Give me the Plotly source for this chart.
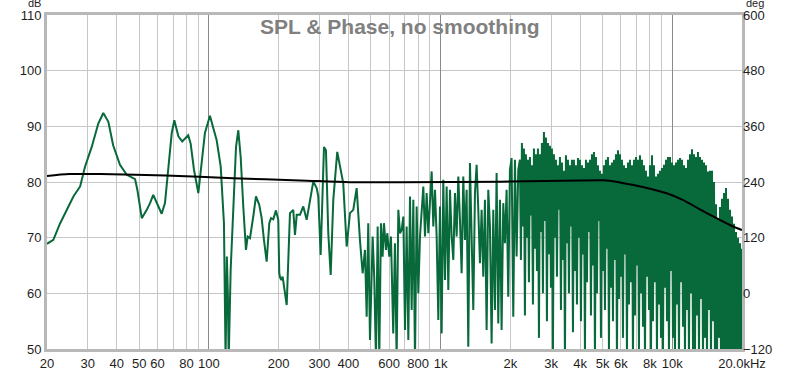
import numpy as np
import plotly.graph_objects as go

# ---------------- data ----------------
# SPL, low/mid frequencies: hand-read points
LOW_FREQ_HZ = [20, 21.3, 22.8, 24.3, 26.0, 27.8, 29.2, 31.2, 33.3, 35.0,
               36.8, 38.6, 41.3, 44.2, 48.0, 49.1, 51.3, 53.9, 55.7, 57.5,
               59.5, 62.5, 64.6, 66.8, 69.1, 70.9, 73.8, 76.7, 81.4, 83.4,
               86.2, 90.0, 93.1, 96.1, 101, 105.1, 108, 112.4, 116.1, 118.0,
               119.5, 120.7, 121.7, 124.1, 127.4, 130.9, 133.9, 137.1, 140.7, 144.5,
               147, 150.4, 155.4, 159.6, 164.9, 168.9, 172.8, 177.5, 182.2, 185.3,
               189.6, 194.7, 199.2, 201.2, 203, 205.4, 208, 216.6, 223.8, 231.2,
               235.2, 239.3, 247.2, 255.4, 264.2, 273, 282.2, 291.8, 296.5, 303.6,
               313.8, 320, 327.5, 335.4, 344.2, 358, 370.4, 380, 393.2, 406.2,
               419.8, 434.2, 448.6, 460.8, 471.6, 479.6, 487.2, 495.6, 509, 517,
               526, 535, 543.6, 552.8, 562, 569.6, 581, 588.6, 600.4, 610.6,
               624.6, 635.2, 646, 657]
LOW_SPL_DB = [68.9, 69.6, 72.6, 75.0, 77.4, 79.2, 82.8, 86.3, 90.5, 92.4,
              90.8, 86.6, 83.1, 81.3, 80.5, 78.6, 73.5, 75.0, 76.2, 77.7,
              76.2, 74.3, 76.2, 82.2, 88.8, 91.1, 88.2, 87.3, 88.4, 86.9,
              82.2, 78.0, 83.4, 88.8, 91.9, 89.1, 87.5, 82.8, 72.6, 48,
              66.6, 60, 48, 64.2, 76.8, 86.3, 89.3, 84.5, 75.6, 67.8,
              70.2, 69.9, 73.8, 77.4, 75.9, 73.5, 69.6, 65.7, 72.6, 73.5,
              73.3, 74.9, 73.2, 63.6, 62.8, 62.4, 63.0, 57.9, 74.4, 75.0,
              70.5, 74.1, 74.1, 75.6, 73.2, 76.8, 80.1, 78.9, 77.4, 66.9,
              86.3, 85.7, 70.8, 63.3, 76.8, 85.4, 82.2, 79.8, 68.4, 74.4,
              75.0, 78.9, 69.6, 63.6, 67.8, 55.8, 72.6, 51.6, 70.2, 63.0,
              48, 72.0, 48, 72.6, 66.6, 72.6, 67.8, 70.8, 66.6, 70.2,
              52.8, 69.0, 48, 75.0]

# SPL, 668 Hz .. 2.16 kHz: values read on an even log-frequency sampling grid
MID_START_HZ = 668
MID_STOP_HZ = 2164
MID_SPL_DB = [70.8, 71.4, 73.8, 53.4, 72.0, 51.6, 77.4, 57.0, 76.8, 48,
              75.6, 60.0, 70.2, 75.0, 79.2, 70.2, 78.0, 70.8, 76.2, 81.9,
              72.0, 78.6, 70.2, 55.2, 75.6, 52.8, 80.4, 62.4, 79.2, 60.6,
              78.6, 70.2, 66.0, 78.0, 70.2, 81.0, 73.2, 63.6, 81.0, 69.6,
              78.6, 50.4, 83.4, 69.6, 57.0, 78.0, 83.1, 75.0, 65.4, 75.0,
              63.0, 76.8, 53.4, 78.6, 72.0, 51.0, 75.0, 57.0, 81.6, 54.6,
              76.8, 53.4, 76.2, 69.0, 78.6, 59.4, 82.2, 84.3, 55.8, 84.0,
              66.6, 82.2]

# SPL, 2.2 kHz .. 20 kHz: dense trace read on an even log-frequency grid
HF_START_HZ = 2200
HF_STOP_HZ = 20000
HF_SPL_DB = [84, 66, 87, 72, 86, 56, 85, 70, 84, 62, 84.5, 74, 83, 58, 86, 68, 85, 64, 86, 52,
             85, 71, 87, 60, 89, 73, 88, 55, 87, 67, 86.5, 61, 86, 49, 85, 70, 84, 63, 83, 75,
             84.5, 57, 83.5, 66, 82, 48, 84.8, 69, 84, 60, 83, 72, 84, 53, 84, 64, 83, 58, 84.3, 70,
             84, 55, 83, 67, 82.5, 49, 84, 62, 83.5, 71, 84, 56, 85, 65, 85.4, 48, 84.5, 60, 83, 73,
             82, 52, 81.5, 64, 83, 57, 84, 68, 84.5, 50, 83, 61, 83.5, 55, 84, 66, 85, 48, 85.7, 59,
             85, 63, 84, 52, 83, 67, 82.5, 49, 83.5, 58, 84, 62, 83, 48, 84, 56, 84.5, 65, 84, 50,
             84.8, 60, 84, 54, 83, 48, 82, 63, 81, 57, 83, 48, 84.8, 55, 83, 62, 81, 49, 81.5, 58,
             82, 52, 82.5, 48, 83.1, 61, 84, 55, 84.5, 48, 84.5, 64, 83.5, 52, 83, 48, 83.5, 58, 84, 48,
             84.3, 62, 84, 54, 83, 48, 82.5, 57, 84, 48, 85, 60, 85.9, 50, 85, 48, 84.5, 56, 85.4, 48,
             84.5, 59, 84, 48, 83.5, 52, 83, 48, 81.9, 57, 82, 48, 82, 55, 80, 48, 76, 48, 73.5, 52,
             75.5, 48, 77, 48, 78, 48, 78.9, 48, 77, 48, 75, 48, 73.8, 48, 72.5, 48, 71, 48, 70, 48,
             69, 48, 68]

# Phase (right axis, degrees)
PHASE_FREQ_HZ = [20, 25, 34, 65, 127, 247, 406, 668, 1800, 4870, 5200, 6800,
                 9450, 11150, 13160, 15530, 18320, 20000]
PHASE_DEG = [253, 257, 257, 254, 248, 243.5, 239.5, 239.4, 240.7, 243.7, 243.5, 233.5,
             215.6, 201, 181, 162, 144, 136.5]

# Axis ticks
X_TICKS = [20, 30, 40, 50, 60, 80, 100, 200, 300, 400, 600, 800, 1000,
           2000, 3000, 4000, 5000, 6000, 8000, 10000, 20000]
X_TICK_TEXT = ["20", "30", "40", "50", "60", "80", "100", "200", "300", "400", "600", "800", "1k",
               "2k", "3k", "4k", "5k", "6k", "8k", "10k", "20.0kHz"]
X_MINOR = [70, 90, 500, 700, 900, 7000, 9000]
X_DECADES = [100, 1000, 10000]
Y_TICKS = [50, 60, 70, 80, 90, 100, 110]
Y2_TICKS = [-120, 0, 120, 240, 360, 480, 600]

# ---------------- figure ----------------
GREEN = "#08693a"
GRID = "#c6c6c6"
DARK_GRID = "#8a8a8a"
FRAME = "#b8b8b8"
FONT = "Liberation Sans, Arial, sans-serif"
TICKFONT = dict(family=FONT, size=13, color="#1e1e1e")

mid_freq = np.geomspace(MID_START_HZ, MID_STOP_HZ, len(MID_SPL_DB))
hf_freq = np.geomspace(HF_START_HZ, HF_STOP_HZ, len(HF_SPL_DB))
freq = np.concatenate([LOW_FREQ_HZ, mid_freq, hf_freq])
spl = np.concatenate([LOW_SPL_DB, MID_SPL_DB, HF_SPL_DB])

xr = [np.log10(20), np.log10(20000)]

fig = go.Figure()
fig.add_trace(go.Scatter(x=freq, y=spl, mode="lines",
                         line=dict(color=GREEN, width=2),
                         xaxis="x", yaxis="y", hoverinfo="skip", showlegend=False))
fig.add_trace(go.Scatter(x=PHASE_FREQ_HZ, y=PHASE_DEG, mode="lines",
                         line=dict(color="black", width=2, shape="spline", smoothing=0.8),
                         xaxis="x2", yaxis="y2", hoverinfo="skip", showlegend=False))

fig.update_layout(
    width=800, height=370,
    margin=dict(l=47, r=58, t=15, b=21, autoexpand=False),
    paper_bgcolor="white", plot_bgcolor="white",
    showlegend=False, hovermode=False,
    font=dict(family=FONT),
    xaxis=dict(type="log", range=xr, tickmode="array", tickvals=X_TICKS, ticktext=X_TICK_TEXT,
               showgrid=True, gridcolor=GRID, gridwidth=1, ticks="", automargin=False,
               minor=dict(tickmode="array", tickvals=X_MINOR, showgrid=True,
                          gridcolor=GRID, gridwidth=1, ticks=""),
               showline=True, linecolor=FRAME, linewidth=3, mirror=True,
               zeroline=False, tickfont=TICKFONT),
    xaxis2=dict(type="log", range=xr, overlaying="x", anchor="y", tickmode="array",
                tickvals=X_DECADES, showticklabels=False, showgrid=True, automargin=False,
                gridcolor=DARK_GRID, gridwidth=1, ticks="", showline=False, zeroline=False),
    yaxis=dict(range=[50, 110], tickmode="array", tickvals=Y_TICKS, automargin=False,
               showgrid=True, gridcolor=GRID, gridwidth=1, ticks="",
               showline=True, linecolor=FRAME, linewidth=3, mirror=True,
               zeroline=False, tickfont=TICKFONT),
    yaxis2=dict(range=[-120, 600], overlaying="y", side="right", anchor="x", automargin=False,
                tickmode="array", tickvals=Y2_TICKS, showgrid=False, ticks="",
                zeroline=False, showline=False, tickfont=TICKFONT),
)

fig.add_annotation(text="<b>SPL &amp; Phase, no smoothing</b>", xref="paper", yref="paper",
                   x=0.508, y=0.967, xanchor="center", yanchor="middle", showarrow=False,
                   font=dict(family=FONT, size=21, color="#808080"))
fig.add_annotation(text="dB", xref="paper", yref="paper", x=-0.0075, y=1.036,
                   xanchor="right", yanchor="middle", showarrow=False, borderpad=0,
                   font=dict(family=FONT, size=11, color="#1e1e1e"))
fig.add_annotation(text="deg", xref="paper", yref="paper", x=1.004, y=1.036,
                   xanchor="left", yanchor="middle", showarrow=False, borderpad=0,
                   font=dict(family=FONT, size=11, color="#1e1e1e"))

fig.write_html("out.html", config={"displayModeBar": False},
               post_script="document.body.style.margin='0px';document.body.style.padding='0px';")
